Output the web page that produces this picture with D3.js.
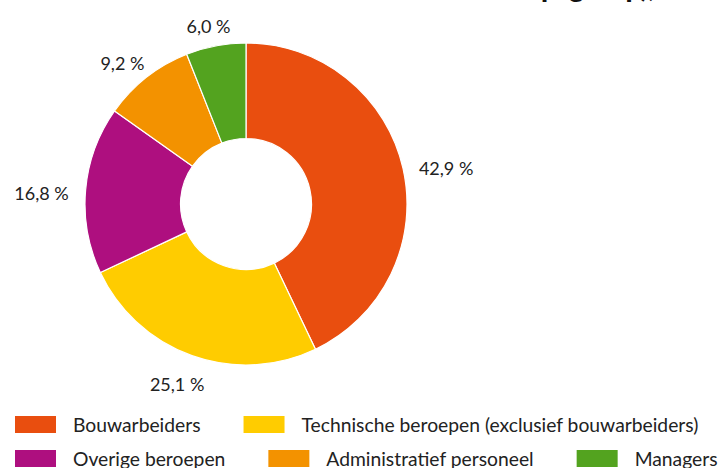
<!DOCTYPE html>
<html><head><meta charset="utf-8">
<script src="https://cdn.jsdelivr.net/npm/d3@7"></script>
<style>body{margin:0;background:#fff}svg{display:block}</style>
</head><body><svg id="c" width="720" height="468"></svg>
<script>
const categories = ["Bouwarbeiders","Technische beroepen (exclusief bouwarbeiders)","Overige beroepen","Administratief personeel","Managers"];
const values = [42.9, 25.1, 16.8, 9.2, 6.0];
const valueLabels = ["42,9 %","25,1 %","16,8 %","9,2 %","6,0 %"];
const colors = ["#E94E0F","#FFCC00","#AE0F7F","#F39200","#53A31F"];
const legendRows = [[0,1],[2,3,4]];
const titleText = "naar beroepsgroep),";

const W=720,H=468, cx=246, cy=204, R=161, r0=65.5;
const svg=d3.select("#c");
const font="Lato, 'Open Sans', sans-serif";

// clipped title (only descenders visible in reference)
svg.append("text").attr("x",655).attr("y",-3).attr("text-anchor","end")
  .style("font-family",font).style("font-weight","900").style("font-size","28px").attr("fill","#111")
  .text(titleText);

const pie=d3.pie().sort(null).value(d=>d)(values);
const arc=d3.arc().innerRadius(r0).outerRadius(R);
const g=svg.append("g").attr("transform",`translate(${cx},${cy})`);
g.selectAll("path").data(pie).join("path")
  .attr("d",arc).attr("fill",(d,i)=>colors[i])
  .attr("stroke","#fff").attr("stroke-width",1.2).attr("stroke-linejoin","round");

// labels
const lr=178;
pie.forEach((d,i)=>{
  const a=(d.startAngle+d.endAngle)/2;
  const s=Math.sin(a), c=Math.cos(a);
  const px=s*lr, py=-c*lr;
  const t=g.append("text").style("font-family",font).style("font-size","18px").attr("fill","#222")
    .attr("text-anchor","middle").attr("dominant-baseline","central").text(valueLabels[i]);
  const w=t.node().getComputedTextLength(), h=16;
  t.attr("x",px+s*w/2).attr("y",py-c*h/2+5);
});

// legend
const rowY=[424.5,458.5];
legendRows.forEach((row,ri)=>{
  let x=15;
  row.forEach(i=>{
    svg.append("rect").attr("x",x).attr("y",rowY[ri]-8.5).attr("width",41).attr("height",17).attr("fill",colors[i]);
    const t=svg.append("text").attr("x",x+58).attr("y",rowY[ri]).attr("dominant-baseline","central")
      .style("font-family",font).style("font-size","19.3px").attr("fill","#222").text(categories[i]);
    x += 58 + t.node().getComputedTextLength() + 43;
  });
});
</script></body></html>
